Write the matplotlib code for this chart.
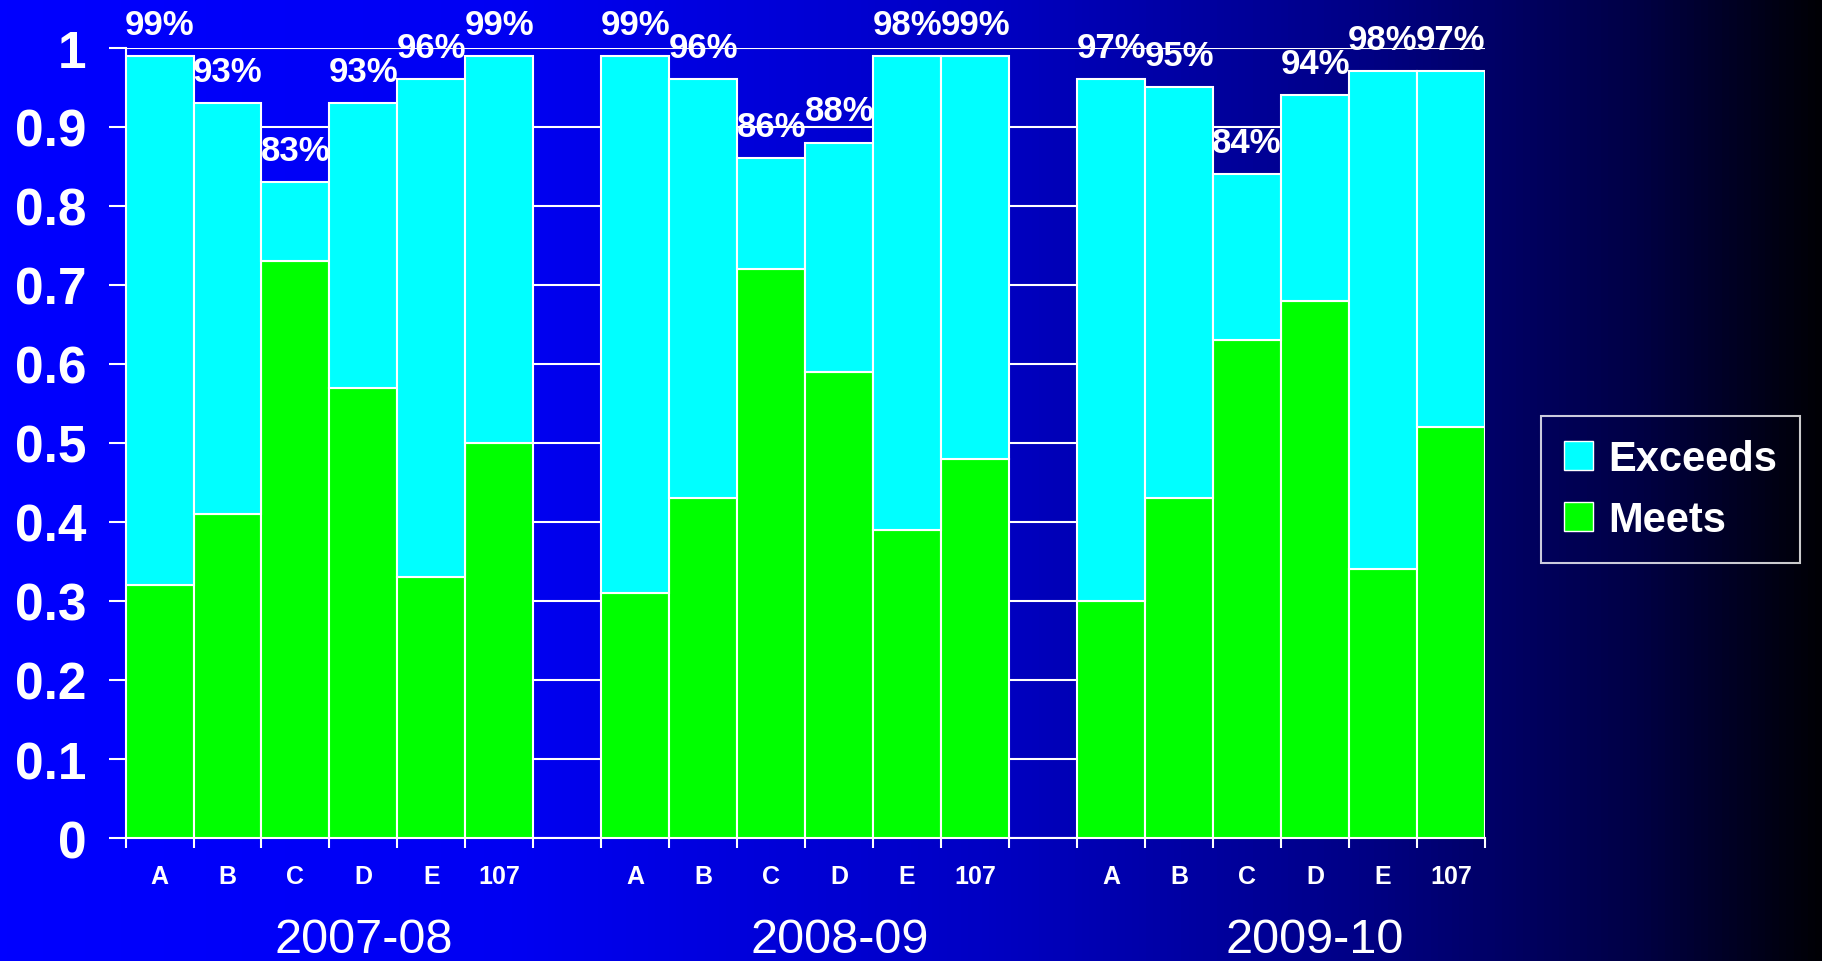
import numpy as np
import matplotlib
matplotlib.use("Agg")
import matplotlib.pyplot as plt
from matplotlib.colors import LinearSegmentedColormap
from matplotlib.patches import Patch

plt.rcParams['font.family'] = ['Liberation Sans', 'DejaVu Sans']

# data
years = ["2007-08", "2008-09", "2009-10"]
schools = ["A", "B", "C", "D", "E", "107"]
meets = [
    [0.32, 0.41, 0.73, 0.57, 0.33, 0.50],
    [0.31, 0.43, 0.72, 0.59, 0.39, 0.48],
    [0.30, 0.43, 0.63, 0.68, 0.34, 0.52],
]
totals = [
    [0.99, 0.93, 0.83, 0.93, 0.96, 0.99],
    [0.99, 0.96, 0.86, 0.88, 0.99, 0.99],
    [0.96, 0.95, 0.84, 0.94, 0.97, 0.97],
]
pct_labels = [
    ["99%", "93%", "83%", "93%", "96%", "99%"],
    ["99%", "96%", "86%", "88%", "98%", "99%"],
    ["97%", "95%", "84%", "94%", "98%", "97%"],
]

CYAN = "#00FFFF"
GREEN = "#00FF00"

fig = plt.figure(figsize=(18.22, 9.62), dpi=100)

# background gradient
bg = fig.add_axes([0, 0, 1, 1], zorder=-10)
cmap = LinearSegmentedColormap.from_list("bg", [
    (0.0, (0, 0, 1.0)), (0.28, (0, 0, 0.95)), (0.55, (0, 0, 0.76)),
    (0.75, (0, 0, 0.52)), (0.9, (0, 0, 0.27)), (1.0, (0, 0, 0.02))])
bg.imshow(np.linspace(0, 1, 512)[None, :], aspect="auto", cmap=cmap,
          extent=[0, 1, 0, 1])
bg.set_axis_off()

ax = fig.add_axes([0.0689, 0.1278, 0.7461, 0.8215])
ax.patch.set_alpha(0)

n = len(schools)
centers = []
for g in range(len(years)):
    x = np.arange(n) + g * (n + 1) + 0.5
    m = np.array(meets[g])
    t = np.array(totals[g])
    ax.bar(x, m, width=1, color=GREEN, edgecolor="white", linewidth=1.5, zorder=3)
    ax.bar(x, t - m, bottom=m, width=1, color=CYAN, edgecolor="white",
           linewidth=1.5, zorder=3)
    for xi, ti, lab in zip(x, t, pct_labels[g]):
        ax.text(xi, ti + 0.04, lab, ha="center", va="center", color="white",
                fontsize=25, fontweight="bold", clip_on=False, zorder=5)
    centers.extend(x)
    ax.text(x[3], -0.144, years[g], transform=ax.get_xaxis_transform(),
            ha="center", va="baseline", color="white", fontsize=35)

ax.set_xlim(0, len(years) * (n + 1) - 1)
ax.set_ylim(0, 1)
ax.set_yticks(np.arange(0, 1.01, 0.1))
ax.set_yticklabels(["0"] + ["%.1f" % v for v in np.arange(0.1, 0.95, 0.1)] + ["1"])
ax.yaxis.grid(True, color="white", linewidth=1.5, zorder=0)
ax.set_axisbelow(True)

ax.set_xticks(centers)
ax.set_xticklabels(schools * len(years))
ax.set_xticks(np.arange(0, len(years) * (n + 1)), minor=True)
ax.tick_params(axis="x", which="major", length=0, pad=19, labelsize=18,
               colors="white")
ax.tick_params(axis="x", which="minor", length=7, width=1.5, color="white")
ax.tick_params(axis="y", length=12, width=1.5, color="white", pad=16,
               labelsize=37, labelcolor="white")
for lab in ax.get_xticklabels() + ax.get_yticklabels():
    lab.set_fontweight("bold")

for s in ["top", "right"]:
    ax.spines[s].set_visible(False)
for s in ["left", "bottom"]:
    ax.spines[s].set_color("white")
    ax.spines[s].set_linewidth(1.5)

handles = [Patch(facecolor=CYAN, edgecolor="white", label="Exceeds"),
           Patch(facecolor=GREEN, edgecolor="white", label="Meets")]
leg = fig.legend(handles=handles, loc="center left", bbox_to_anchor=(0.846, 0.49),
                 frameon=True, fancybox=False, handlelength=0.7, handleheight=0.7,
                 handletextpad=0.35, labelspacing=0.5, borderpad=0.55,
                 borderaxespad=0, prop={"size": 30, "weight": "bold"})
leg.get_frame().set_facecolor("none")
leg.get_frame().set_edgecolor("white")
leg.get_frame().set_linewidth(1.5)
for t in leg.get_texts():
    t.set_color("white")

fig.savefig("out.png", dpi=100)
